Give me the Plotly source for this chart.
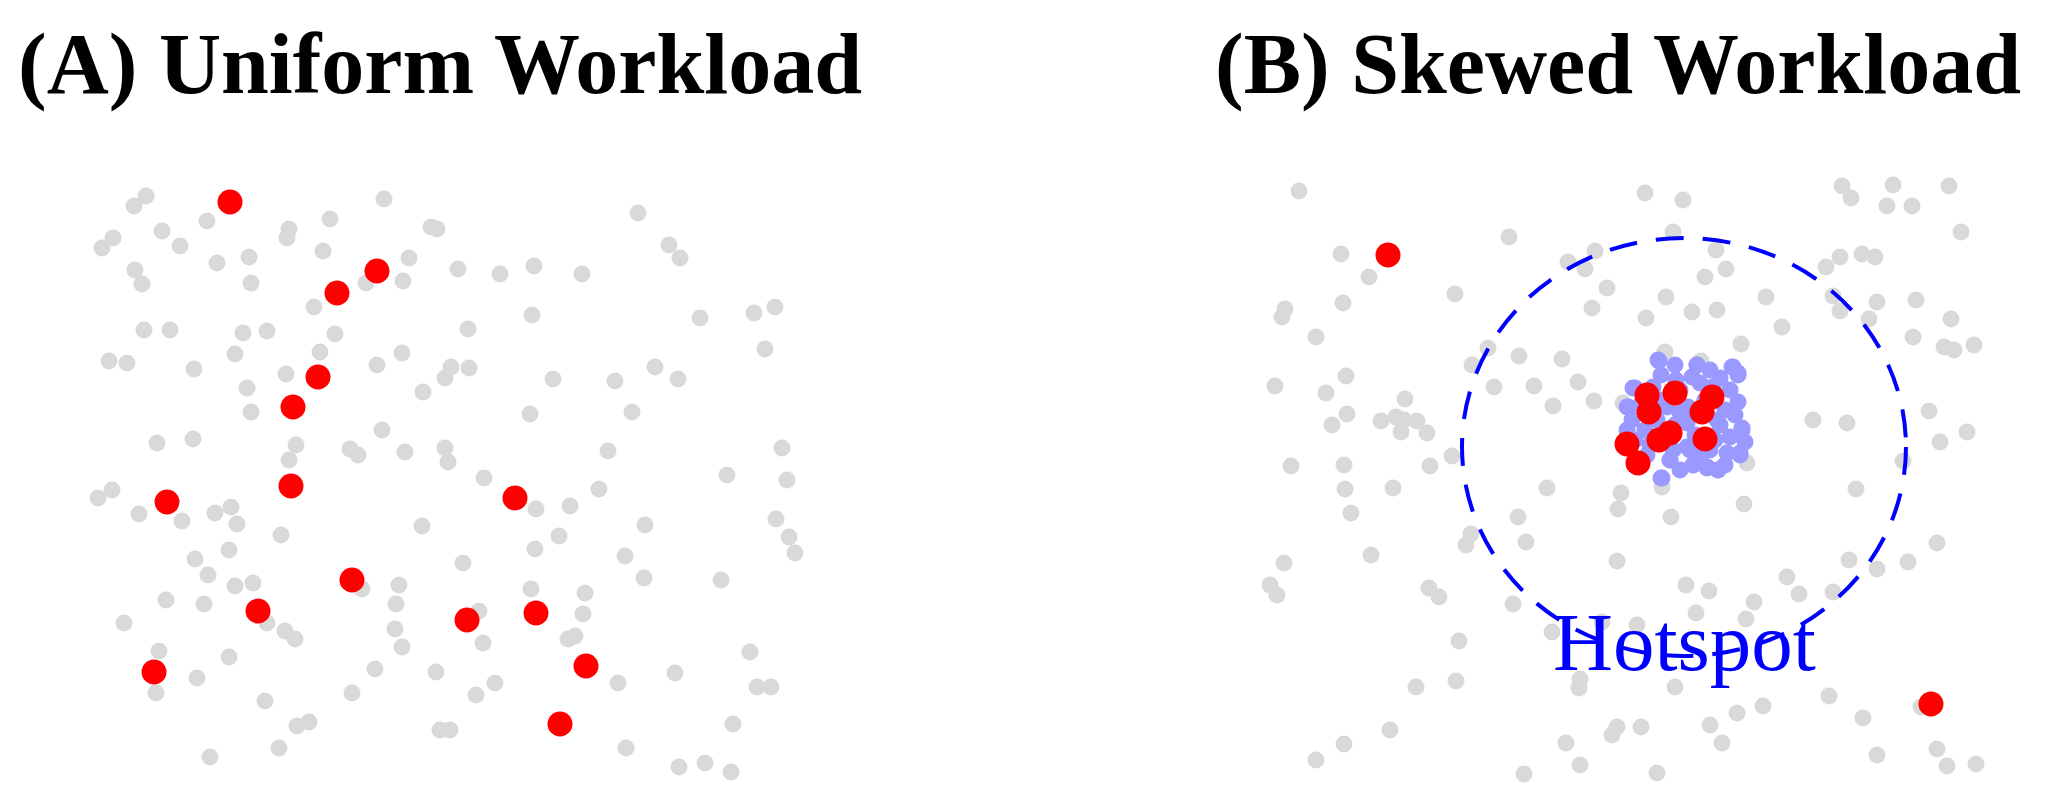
import plotly.graph_objects as go

# (A) uniform workload: background keys and sampled (red) keys
uniform_keys = [
    (6.6, 60.4), (5.4, 59.4), (12.7, 57.9), (8.2, 56.9), (3.3, 56.2), (2.2, 55.2), (10.0, 55.4),
    (20.9, 57.1), (20.7, 56.2), (25.0, 58.1), (30.4, 60.1), (35.1, 57.3), (35.7, 57.1), (24.3, 54.9),
    (16.9, 54.3), (13.7, 53.7), (32.9, 54.2), (5.5, 53.0), (6.2, 51.6), (17.1, 51.7), (28.6, 51.7),
    (32.3, 51.9), (23.4, 49.3), (6.4, 47.0), (9.0, 47.0), (16.3, 46.7), (18.7, 46.9), (25.5, 46.6),
    (15.5, 44.6), (24.0, 44.8), (32.2, 44.7), (2.9, 43.9), (4.7, 43.7), (11.4, 43.1), (20.6, 42.6),
    (29.7, 43.5), (34.3, 40.8), (16.7, 41.2), (17.1, 38.8), (30.2, 37.0), (7.7, 35.7), (11.3, 36.1),
    (21.6, 35.5), (20.9, 34.0), (27.0, 35.1), (27.8, 34.5), (32.5, 34.8),
    (55.8, 58.7), (58.9, 55.5), (60.0, 54.2), (37.8, 53.1), (42.0, 52.6), (45.4, 53.4), (50.2, 52.6),
    (45.2, 48.5), (62.0, 48.2), (67.4, 48.7), (69.5, 49.3), (68.5, 45.1), (38.8, 47.1), (37.1, 43.3),
    (36.5, 42.2), (38.9, 43.2), (47.3, 42.1), (53.5, 41.9), (57.5, 43.3), (59.8, 42.1), (55.2, 38.8),
    (45.0, 38.6), (36.5, 35.2), (36.8, 33.8), (52.8, 34.9), (70.2, 35.2), (64.7, 32.5), (70.7, 32.0),
    (40.4, 32.2),
    (3.2, 31.0), (1.8, 30.2), (5.9, 28.6), (10.2, 27.9), (13.5, 28.7), (15.1, 29.3), (15.7, 27.6),
    (20.1, 26.5), (34.2, 27.4), (14.9, 25.0), (11.5, 24.1), (12.8, 22.5), (15.5, 21.4), (17.3, 21.7),
    (8.6, 20.0), (12.4, 19.6), (28.2, 21.1), (31.9, 21.5), (31.6, 19.6), (31.5, 17.1), (32.2, 15.3),
    (4.4, 17.7), (18.7, 17.7), (20.5, 16.9), (21.5, 16.1), (7.9, 14.9), (14.9, 14.3), (11.7, 12.2),
    (7.6, 10.7), (29.5, 13.1), (35.6, 12.8), (27.2, 10.7), (18.5, 9.9), (21.7, 7.4), (22.9, 7.8),
    (19.9, 5.2), (13.0, 4.3),
    (51.9, 31.1), (45.6, 29.1), (49.0, 29.4), (56.5, 27.5), (47.9, 26.4), (45.5, 25.1), (54.5, 24.4),
    (38.3, 23.7), (56.4, 22.2), (64.1, 22.0), (69.6, 28.1), (70.9, 26.3), (71.5, 24.7), (45.1, 21.1),
    (50.5, 20.7), (39.9, 18.9), (50.3, 18.6), (40.3, 15.7), (48.8, 16.1), (49.5, 16.4), (67.0, 14.8),
    (59.5, 12.7), (53.8, 11.7), (67.7, 11.3), (69.1, 11.3), (41.5, 11.7), (39.6, 10.5), (65.3, 7.6),
    (36.0, 7.0), (37.0, 7.0), (54.6, 5.2), (59.9, 3.3), (62.5, 3.7), (65.1, 2.8),
]
uniform_hits = [
    (15.0, 59.8), (29.7, 52.9), (25.7, 50.7), (23.8, 42.3), (21.3, 39.3), (21.1, 31.4), (8.7, 29.8),
    (27.2, 22.0), (17.8, 18.9), (7.4, 12.8), (43.5, 30.2), (38.7, 18.0), (45.6, 18.7), (50.6, 13.4),
    (48.0, 7.6),
]

# (B) skewed workload
skewed_keys = [
    (4.9, 60.9), (25.9, 56.3), (9.1, 54.6), (11.9, 52.3), (31.8, 53.8), (33.5, 53.1), (34.5, 54.9),
    (35.7, 51.2), (34.2, 49.2), (20.5, 50.6), (9.3, 49.7), (3.5, 49.1), (3.2, 48.3), (6.6, 46.3),
    (23.8, 45.2), (26.9, 44.4), (31.2, 44.1), (22.2, 43.5), (9.6, 42.4), (2.5, 41.4), (7.6, 40.7),
    (24.4, 41.3), (28.4, 41.4), (32.8, 41.8), (34.4, 39.9), (30.3, 39.4), (15.5, 40.1), (9.7, 38.6),
    (8.2, 37.5), (13.1, 37.9), (14.6, 38.3), (15.4, 38.0), (16.7, 37.9), (15.1, 36.8), (17.7, 36.7),
    (20.2, 34.4), (4.1, 33.4), (9.4, 33.5), (18.0, 33.4),
    (39.5, 60.7), (43.3, 60.0), (59.2, 61.4), (60.1, 60.2), (64.3, 61.5), (63.7, 59.4), (66.2, 59.4),
    (69.9, 61.4), (71.1, 56.8), (42.3, 56.8), (46.6, 55.0), (47.6, 53.1), (45.5, 52.3), (41.6, 50.3),
    (44.2, 48.8), (46.7, 49.0), (39.6, 48.2), (51.6, 50.3), (53.2, 47.3), (49.1, 45.6), (57.6, 53.3),
    (59.0, 54.3), (61.2, 54.6), (62.5, 54.3), (58.3, 50.4), (59.0, 48.9), (62.7, 49.8), (61.9, 48.1),
    (66.6, 50.0), (70.1, 48.1), (66.3, 46.3), (69.4, 45.3), (70.4, 45.0), (72.4, 45.5), (41.5, 44.8),
    (45.1, 43.9), (56.3, 38.0), (59.7, 37.7), (67.9, 38.9), (69.0, 35.8), (71.7, 36.8), (65.3, 33.9),
    (49.7, 33.7), (37.3, 39.7),
    (9.5, 31.1), (14.3, 31.2), (29.7, 31.2), (10.1, 28.7), (26.8, 28.3), (22.1, 26.6), (21.6, 25.5),
    (27.6, 25.8), (3.4, 23.7), (12.1, 24.5), (2.0, 21.5), (2.7, 20.5), (17.9, 21.2), (18.9, 20.3),
    (26.3, 19.6), (35.2, 17.8), (30.2, 16.8), (20.9, 15.9), (20.6, 11.9), (16.6, 11.3), (33.0, 12.1),
    (32.9, 11.2), (14.0, 7.0), (9.4, 5.6), (6.6, 4.0), (31.6, 5.7), (33.0, 3.5), (27.4, 2.6),
    (37.1, 30.7), (36.8, 29.1), (41.2, 31.3), (42.1, 28.3), (49.4, 29.6), (60.6, 31.1), (36.7, 23.9),
    (68.7, 25.7), (65.8, 23.8), (59.9, 24.0), (62.7, 23.1), (53.7, 22.3), (54.9, 20.6), (58.3, 20.8),
    (43.6, 21.5), (45.9, 20.9), (50.4, 19.8), (44.6, 18.7), (49.6, 18.1), (38.7, 17.5), (42.5, 11.3),
    (57.9, 10.4), (67.1, 9.3), (61.3, 8.2), (48.7, 8.7), (51.3, 9.4), (46.0, 7.5), (47.2, 5.7),
    (36.7, 7.3), (36.2, 6.5), (39.1, 7.3), (40.7, 2.7), (62.7, 4.5), (68.7, 5.1), (69.7, 3.4),
    (72.6, 3.6),
]
hot_keys = [
    (40.9, 43.9), (41.1, 42.5), (44.7, 43.5), (44.2, 42.3), (48.2, 43.3), (48.8, 42.5), (47.0, 42.2),
    (42.6, 42.0), (38.5, 41.2), (37.8, 39.3), (38.2, 38.0), (43.0, 38.7), (48.0, 41.0), (48.8, 39.8),
    (46.7, 38.0), (43.8, 39.3), (43.7, 37.7), (42.3, 35.0), (42.0, 34.0), (39.7, 34.5), (37.7, 37.0),
    (49.2, 37.0), (48.0, 36.3), (49.0, 34.5), (47.7, 34.7), (44.3, 33.5), (45.7, 33.2), (46.8, 33.0),
    (41.1, 32.2), (43.7, 35.3), (45.0, 34.3), (40.7, 38.0), (41.7, 39.3), (45.0, 41.7), (46.3, 41.3),
    (40.3, 41.3), (40.8, 44.0), (44.7, 43.5), (48.3, 43.3), (48.8, 42.7), (41.2, 32.2), (45.7, 33.3),
    (46.8, 33.0), (44.3, 33.5), (42.0, 34.0), (49.0, 34.7), (49.2, 37.2), (38.3, 41.2), (37.7, 39.3),
    (42.5, 37.5), (44.5, 36.5), (46.5, 36.0), (47.5, 39.0), (39.5, 37.0), (41.0, 40.0), (43.0, 41.0),
    (45.5, 40.0), (47.0, 37.5), (44.0, 35.0), (40.0, 35.5), (46.0, 35.0), (48.5, 38.5), (39.0, 39.5),
    (42.5, 43.5), (46.0, 43.0), (47.5, 33.5), (43.0, 33.0), (38.5, 36.0), (49.5, 35.8),
]
skewed_hits = [
    (13.8, 54.5), (68.1, 9.6),
    (39.7, 40.5), (39.9, 38.8), (42.5, 40.7), (46.2, 40.3), (45.2, 38.8), (45.5, 36.1), (37.7, 35.6),
    (38.8, 33.7), (40.9, 36.0), (42.0, 36.7),
]

hotspot_center = (43.4, 35.3)
hotspot_radius = (22.2, 20.9)

GRAY = "#d9d9d9"
RED = "#ff0000"
LIGHTBLUE = "#9999ff"
BLUE = "#0000ff"
SERIF = "Liberation Serif, Times New Roman, serif"

# page body has an 8px margin, so the figure is 2054-16 wide
W, H = 2038, 794


def pts(pairs, color, size, xa, ya):
    return go.Scatter(
        x=[p[0] for p in pairs], y=[p[1] for p in pairs],
        mode="markers", marker=dict(color=color, size=size, line_width=0),
        xaxis=xa, yaxis=ya, cliponaxis=False, hoverinfo="skip", showlegend=False,
    )


fig = go.Figure()
fig.add_trace(pts(uniform_keys, GRAY, 17, "x", "y"))
fig.add_trace(pts(uniform_hits, RED, 25, "x", "y"))
fig.add_trace(pts(skewed_keys, GRAY, 17, "x2", "y2"))
fig.add_trace(pts(hot_keys, LIGHTBLUE, 17, "x2", "y2"))
fig.add_trace(pts(skewed_hits, RED, 25, "x2", "y2"))

cx, cy = hotspot_center
rx, ry = hotspot_radius
fig.add_shape(type="circle", xref="x2", yref="y2",
              x0=cx - rx, x1=cx + rx, y0=cy - ry, y1=cy + ry,
              line=dict(color=BLUE, width=4, dash="28px,19px"))

fig.add_annotation(x=cx, y=15.8, xref="x2", yref="y2", text="Hotspot", showarrow=False,
                   font=dict(family=SERIF, size=83, color=BLUE), xanchor="center", yanchor="middle")

fig.add_annotation(x=8 / W, y=0.929, xref="paper", yref="paper", text="(A) Uniform Workload",
                   showarrow=False, xanchor="left", yanchor="middle",
                   font=dict(family=SERIF, size=86, color="black", weight="bold"))
fig.add_annotation(x=1205 / W, y=0.929, xref="paper", yref="paper", text="(B) Skewed Workload",
                   showarrow=False, xanchor="left", yanchor="middle",
                   font=dict(family=SERIF, size=86, color="black", weight="bold"))

ax = dict(visible=False, showgrid=False, zeroline=False, fixedrange=True)
fig.update_layout(
    width=W, height=H,
    margin=dict(l=0, r=0, t=0, b=0),
    paper_bgcolor="white", plot_bgcolor="white",
    xaxis=dict(ax, range=[0, 74], domain=[72 / W, 812 / W]),
    yaxis=dict(ax, range=[0, 63], domain=[2 / H, 632 / H]),
    xaxis2=dict(ax, range=[0, 74], domain=[1242 / W, 1982 / W], anchor="y2"),
    yaxis2=dict(ax, range=[0, 63], domain=[2 / H, 632 / H], anchor="x2"),
)

fig.write_html("out.html")
